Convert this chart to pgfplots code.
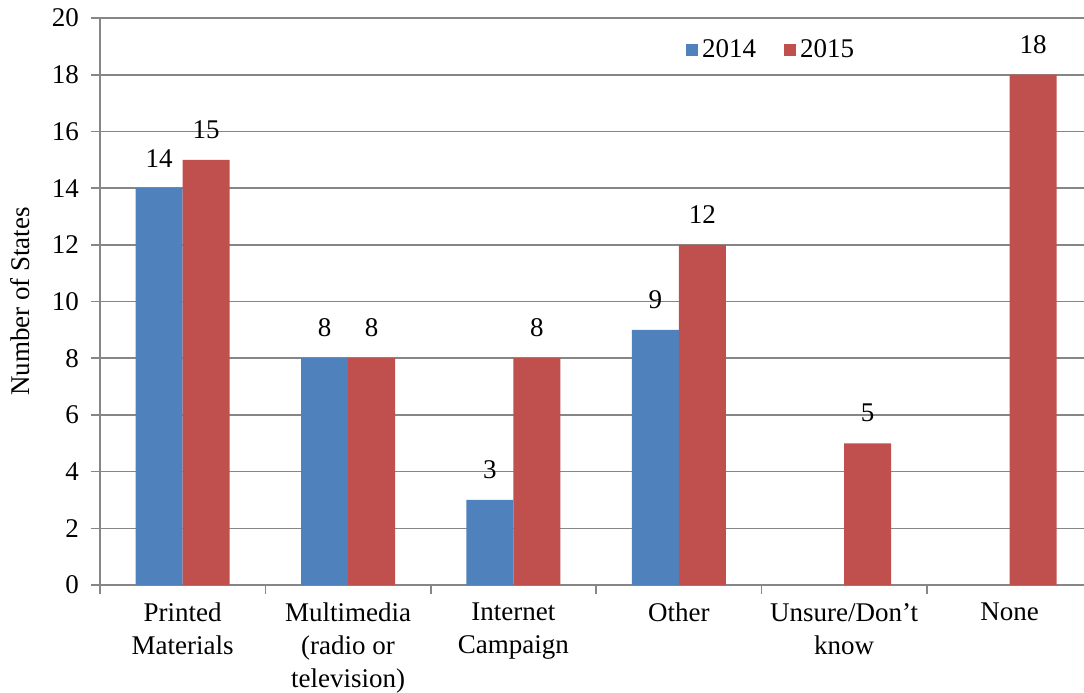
\documentclass[border=0pt]{standalone}
\usepackage{pgfplots}
\pgfplotsset{compat=1.18}
\usepackage{fontspec}
\setmainfont{Liberation Serif}
\definecolor{b14}{HTML}{4F81BD}
\definecolor{r15}{HTML}{C0504D}
\definecolor{gridc}{RGB}{134,134,134}
\begin{document}
\begin{tikzpicture}
\begin{axis}[
 name=ax,
 scale only axis, width=492pt, height=283.5pt,
 xmin=-0.5, xmax=5.45, ymin=0, ymax=20,
 ybar=0pt, bar width=23.5pt,
 axis x line*=bottom, axis y line*=left,
 axis line style={gridc, line width=0.8pt},
 ytick={0,2,...,20}, ymajorgrids, grid style={gridc, line width=0.8pt},
 tick align=outside, major tick length=4.5pt,
 tick style={gridc, line width=0.8pt},
 xtick={-0.5,0.5,...,4.5}, xticklabels={},
 extra x ticks={0,1,2,3,4,5},
 extra x tick labels={Printed\\Materials, Multimedia\\(radio or\\television), Internet\\Campaign, Other, Unsure/Don’t\\know, None},
 extra x tick style={major tick length=0pt},
 x tick label style={align=center, font=\fontsize{13.5}{16.5}\selectfont, yshift=-5.5pt},
 y tick label style={font=\fontsize{13.5}{16.5}\selectfont, xshift=-2.5pt},
 /pgf/number format/assume math mode=true,
 ylabel={Number of States},
 ylabel style={font=\fontsize{13.5}{16.5}\selectfont, at={(axis description cs:-0.0813,0.5)}, anchor=center},
 nodes near coords,
 every node near coord/.append style={font=\fontsize{13.5}{16.5}\selectfont, text=black, yshift=7pt},
 legend style={draw=none, at={(0.683,0.9436)}, anchor=center, legend columns=2,
   font=\fontsize{13.5}{16.5}\selectfont, /tikz/every even column/.append style={column sep=12pt}},
 legend image code/.code={\fill[#1] (0pt,-3pt) rectangle (6pt,3pt);},
]
\addplot[fill=b14, draw=none] coordinates {(0,14) (1,8) (2,3) (3,9)};
\addplot[fill=r15, draw=none] coordinates {(0,15) (1,8) (2,8) (3,12) (4,5) (5,18)};
\legend{2014,2015}
\end{axis}
\pgfresetboundingbox
\path ([xshift=-50pt,yshift=-53.5pt]ax.south west) rectangle ([yshift=9pt]ax.north east);
\end{tikzpicture}
\end{document}
